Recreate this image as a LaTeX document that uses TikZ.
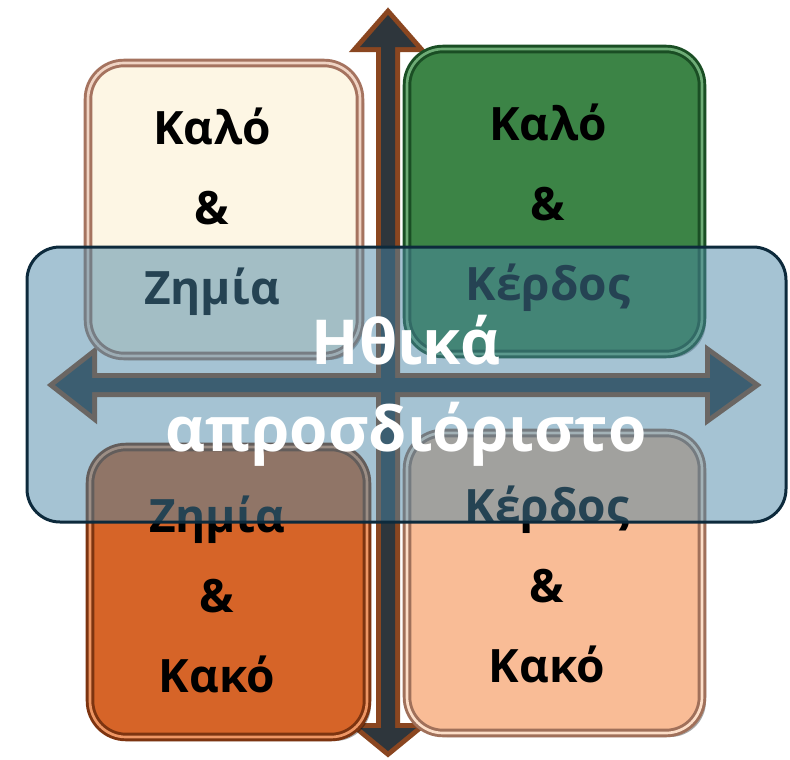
\documentclass[tikz,border=0pt]{standalone}
\usepackage{fontspec}
\setmainfont{Open Sans}
\usetikzlibrary{shadows}

\tikzset{every picture/.style={line width=0.75pt}}

\begin{document}
\begin{tikzpicture}[x=0.75pt,y=0.75pt,yscale=-1,xscale=1,
  tile/.style={line width=2.2pt, double distance=2pt, rounded corners=27pt,
    minimum width=#1, inner sep=0pt,
    drop shadow={shadow xshift=3pt, shadow yshift=-3pt, opacity=0.35, fill=black}},
  tiletext/.style={align=center, inner sep=0pt, text=black,
    font=\fontsize{34.5}{60}\selectfont\bfseries},
  arrowrim/.style={draw={rgb, 255:red, 138; green, 70; blue, 32}, line width=7.5pt, line join=miter},
  arrowcore/.style={fill={rgb, 255:red, 46; green, 54; blue, 60}}]
  \useasboundingbox (0,0) rectangle (790,760);

  %Axes: rims first, then the dark cores, so the cross merges
  \foreach \layer in {arrowrim,arrowcore}{
    \path[\layer] (55,385) -- (92,356) -- (92,378) -- (710,378) -- (710,354) -- (753,385)
      -- (710,416) -- (710,392) -- (92,392) -- (92,414) -- cycle ;
    \path[\layer] (388,15) -- (416,47) -- (395,47) -- (395,728) -- (416,728) -- (388,751)
      -- (360,728) -- (381,728) -- (381,47) -- (360,47) -- cycle ;
  }

  %Rounded Rect: good & loss
  \node[tile=204pt, minimum height=219.75pt,
    fill={rgb, 255:red, 253; green, 246; blue, 228},
    draw={rgb, 255:red, 165; green, 115; blue, 95},
    double={rgb, 255:red, 240; green, 212; blue, 196}] (kaloZimia) at (224,209.5) {};
  %Rounded Rect: good & gain
  \node[tile=221.25pt, minimum height=228.75pt,
    fill={rgb, 255:red, 60; green, 132; blue, 70},
    draw={rgb, 255:red, 26; green, 78; blue, 36},
    double={rgb, 255:red, 110; green, 172; blue, 118}] (kaloKerdos) at (554.5,201.5) {};
  %Rounded Rect: loss & bad
  \node[tile=207.75pt, minimum height=217.5pt,
    fill={rgb, 255:red, 214; green, 100; blue, 40},
    draw={rgb, 255:red, 125; green, 52; blue, 16},
    double={rgb, 255:red, 238; green, 150; blue, 100}] (zimiaKako) at (228.5,592) {};
  %Rounded Rect: gain & bad
  \node[tile=221.25pt, minimum height=225pt,
    fill={rgb, 255:red, 249; green, 188; blue, 150},
    draw={rgb, 255:red, 160; green, 112; blue, 90},
    double={rgb, 255:red, 252; green, 222; blue, 200}] (kerdosKako) at (554.5,583) {};

  % Text Node
  \node[tiletext] (kaloZimiaText) at (212,212) {Καλό\\\&\\Ζημία};
  % Text Node
  \node[tiletext] (kaloKerdosText) at (548,208) {Καλό\\\&\\Κέρδος};
  % Text Node
  \node[tiletext] (zimiaKakoText) at (217,594) {Ζημία\\\&\\Κακό};
  % Text Node
  \node[tiletext] (kerdosKakoText) at (547,584) {Κέρδος\\\&\\Κακό};

  %Rounded Rect: band across the middle
  \node[draw={rgb, 255:red, 13; green, 42; blue, 60}, line width=2.25pt,
    fill={rgb, 255:red, 75; green, 135; blue, 167}, fill opacity=0.5,
    rounded corners=24.75pt, minimum width=569.25pt, minimum height=206.25pt,
    inner sep=0pt] (zoni) at (406.5,384.5) {};
  % Text Node
  \node[align=center, inner sep=0pt, text=white,
    font=\fontsize{46.5}{65}\selectfont\bfseries] (ithika) at (406,391) {Ηθικά\\απροσδιόριστο};
\end{tikzpicture}
\end{document}
